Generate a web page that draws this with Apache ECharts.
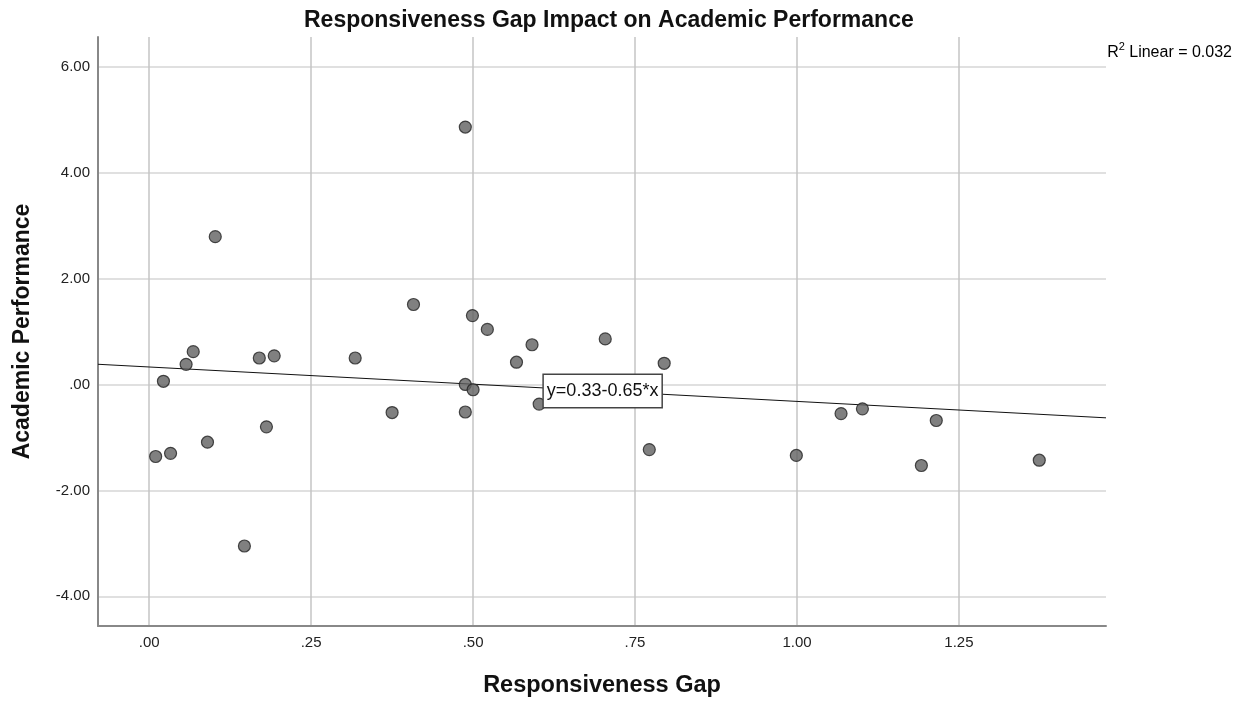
<!DOCTYPE html>
<html>
<head>
<meta charset="utf-8">
<script src="https://cdn.jsdelivr.net/npm/echarts@6/dist/echarts.min.js"></script>
<style>
  html, body { margin: 0; padding: 0; background: #fff; }
  #chart { width: 1242px; height: 703px; }
</style>
</head>
<body>
<div id="chart"></div>
<script>
// values
const gapValues = [
  0.102, 0.408, 0.010, 0.033, 0.090, 0.022, 0.057, 0.068, 0.170, 0.193,
  0.181, 0.318, 0.375, 0.499, 0.522, 0.591, 0.567, 0.704, 0.795, 0.488,
  0.500, 0.488, 0.602, 0.772, 0.999, 1.068, 1.101, 1.215, 1.192, 1.374,
  0.488, 0.147
];
const performanceValues = [
  2.79, 1.51, -1.36, -1.30, -1.09, 0.06, 0.38, 0.62, 0.50, 0.54,
  -0.80, 0.50, -0.53, 1.30, 1.04, 0.75, 0.42, 0.86, 0.40, 0.00,
  -0.10, -0.52, -0.37, -1.23, -1.34, -0.55, -0.46, -0.68, -1.53, -1.43,
  4.86, -3.05
];
const xTicks = [0, 0.25, 0.5, 0.75, 1.0, 1.25];
const yTicks = [-4, -2, 0, 2, 4, 6];
const xRange = [-0.079, 1.477];
const yRange = [-4.56, 6.56];
// fitted line from the chart annotation
const fitIntercept = 0.33;
const fitSlope = -0.65;
const rSquared = 0.032;
const labelAtX = 0.70;

const FONT = '"Liberation Sans", Arial, sans-serif';

// SPSS style numbers: .25, -2.00, 1.00
function fmt(v) {
  return v.toFixed(2).replace(/^(-?)0\./, '$1.');
}
const fit = x => fitIntercept + fitSlope * x;

const points = gapValues.map((x, i) => [x, performanceValues[i]]);
const fitLine = xRange.map(x => [x, fit(x)]);

const chart = echarts.init(document.getElementById('chart'));
chart.setOption({
  animation: false,
  backgroundColor: '#fff',
  title: {
    text: 'Responsiveness Gap Impact on Academic Performance',
    left: 299,
    top: 4,
    textStyle: { fontFamily: FONT, fontSize: 23, fontWeight: 'bold', color: '#111' }
  },
  grid: { left: 98, right: 136, top: 37, bottom: 75 },
  xAxis: {
    type: 'value',
    min: xRange[0],
    max: xRange[1],
    name: 'Responsiveness Gap',
    nameLocation: 'middle',
    nameGap: 48,
    nameTextStyle: { fontFamily: FONT, fontSize: 23.5, fontWeight: 'bold', color: '#111' },
    axisLine: { show: true, onZero: false, lineStyle: { color: '#888', width: 2 } },
    axisTick: { show: false, customValues: xTicks },
    axisLabel: {
      customValues: xTicks,
      formatter: fmt,
      margin: 9,
      fontFamily: FONT, fontSize: 15, color: '#222'
    },
    splitLine: { show: true, lineStyle: { color: '#c4c4c4', width: 1.5 } }
  },
  yAxis: {
    type: 'value',
    min: yRange[0],
    max: yRange[1],
    name: 'Academic Performance',
    nameLocation: 'middle',
    nameGap: 64,
    nameTextStyle: { fontFamily: FONT, fontSize: 23, fontWeight: 'bold', color: '#111' },
    axisLine: { show: true, onZero: false, lineStyle: { color: '#888', width: 2 } },
    axisTick: { show: false, customValues: yTicks },
    axisLabel: {
      customValues: yTicks,
      formatter: fmt,
      margin: 8,
      fontFamily: FONT, fontSize: 15, color: '#222'
    },
    splitLine: { show: true, lineStyle: { color: '#d6d6d6', width: 1.5 } }
  },
  graphic: [{
    type: 'text',
    right: 10,
    top: 41,
    style: {
      text: '{a|R}{s|2}{a| Linear = ' + rSquared.toFixed(3) + '}',
      rich: {
        a: { fontFamily: FONT, fontSize: 16, color: '#111', lineHeight: 20, verticalAlign: 'bottom' },
        s: { fontFamily: FONT, fontSize: 11, color: '#111', lineHeight: 20, verticalAlign: 'top', padding: [0, 0, 8, 0] }
      }
    }
  }],
  series: [
    {
      type: 'line',
      data: fitLine,
      symbol: 'none',
      silent: true,
      lineStyle: { color: '#111', width: 1 },
      z: 3,
      markPoint: {
        symbol: 'rect',
        symbolSize: 1,
        itemStyle: { color: 'transparent' },
        data: [{ coord: [labelAtX, fit(labelAtX)] }],
        label: {
          show: true,
          position: 'inside',
          formatter: 'y=' + fitIntercept.toFixed(2) + '-' + Math.abs(fitSlope).toFixed(2) + '*x',
          backgroundColor: '#fff',
          borderColor: '#444',
          borderWidth: 1.5,
          padding: [7, 3, 7, 3],
          fontFamily: FONT, fontSize: 18, color: '#111'
        }
      }
    },
    {
      type: 'scatter',
      data: points,
      symbolSize: 12,
      itemStyle: { color: '#606060', borderColor: '#222', borderWidth: 1.2 },
      z: 4
    }
  ]
});
</script>
</body>
</html>
